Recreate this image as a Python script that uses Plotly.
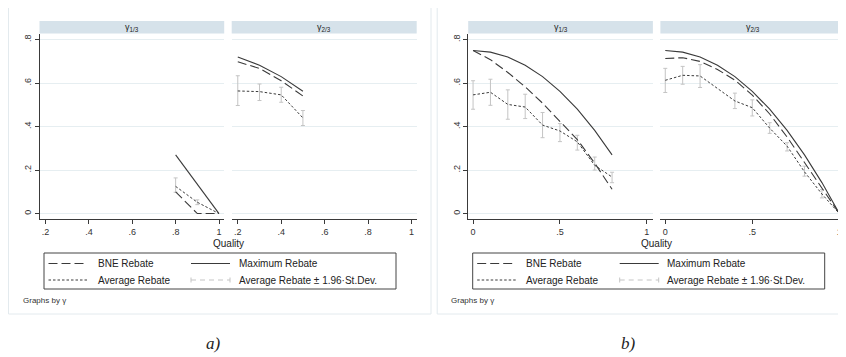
import plotly.graph_objects as go

# The page body adds an 8px margin, so the figure is 8px smaller and shifted.
PAGE_W, PAGE_H = 846, 357
OFF = 8
W, H = PAGE_W - OFF, PAGE_H - OFF

# ---------------- data ----------------
# Panel a)
a1_x = [0.8, 0.9, 1.0]
a1_max = [0.27, 0.135, 0.0]
a1_bne = [0.10, 0.0, 0.0]
a1_avg = [0.125, 0.052, 0.0]
a1_ci_x = [0.8, 0.9]
a1_lo = [0.098, 0.041]
a1_hi = [0.164, 0.063]

a2_x = [0.2, 0.3, 0.4, 0.5]
a2_max = [0.72, 0.6825, 0.63, 0.5625]
a2_bne = [0.698, 0.668, 0.611, 0.541]
a2_avg = [0.564, 0.561, 0.546, 0.44]
a2_ci_x = [0.2, 0.3, 0.4, 0.5]
a2_lo = [0.497, 0.52, 0.512, 0.405]
a2_hi = [0.634, 0.596, 0.581, 0.474]

# Panel b)
b1_x = [0.0, 0.1, 0.2, 0.3, 0.4, 0.5, 0.6, 0.7, 0.8]
b1_max = [0.75, 0.7425, 0.72, 0.6825, 0.63, 0.5625, 0.48, 0.3825, 0.27]
b1_bne = [0.75, 0.708, 0.649, 0.583, 0.508, 0.426, 0.34, 0.232, 0.112]
b1_avg = [0.546, 0.558, 0.502, 0.49, 0.407, 0.38, 0.33, 0.222, 0.168]
b1_ci_x = b1_x
b1_lo = [0.48, 0.498, 0.434, 0.437, 0.349, 0.331, 0.292, 0.20, 0.142]
b1_hi = [0.611, 0.618, 0.569, 0.549, 0.465, 0.414, 0.36, 0.26, 0.19]

b2_x = [0.0, 0.1, 0.2, 0.3, 0.4, 0.5, 0.6, 0.7, 0.8, 0.9, 1.0]
b2_max = [0.75, 0.7425, 0.72, 0.6825, 0.63, 0.5625, 0.48, 0.3825, 0.27, 0.1425, 0.0]
b2_bne = [0.713, 0.717, 0.70, 0.663, 0.614, 0.545, 0.458, 0.352, 0.235, 0.117, 0.0]
b2_avg_x = [0.0, 0.1, 0.2, 0.4, 0.5, 0.6, 0.7, 0.8, 0.9, 1.0]
b2_avg = [0.613, 0.636, 0.633, 0.518, 0.487, 0.393, 0.31, 0.192, 0.09, 0.0]
b2_ci_x = [0.0, 0.1, 0.2, 0.4, 0.5, 0.6, 0.7, 0.8, 0.9]
b2_lo = [0.557, 0.595, 0.58, 0.483, 0.449, 0.369, 0.288, 0.172, 0.072]
b2_hi = [0.668, 0.677, 0.685, 0.554, 0.523, 0.418, 0.326, 0.218, 0.11]

y_ticks = [0, 0.2, 0.4, 0.6, 0.8]
y_ticktext = ["0", ".2", ".4", ".6", ".8"]
a_xticks = [0.2, 0.4, 0.6, 0.8, 1.0]
a_xticktext = [".2", ".4", ".6", ".8", "1"]
b_xticks = [0, 0.5, 1.0]
b_xticktext = ["0", ".5", "1"]

legend_labels = ["BNE Rebate", "Maximum Rebate", "Average Rebate",
                 "Average Rebate \u00b1 1.96\u00b7St.Dev."]
strip_titles = ["\u03b3<sub>1/3</sub>", "\u03b3<sub>2/3</sub>"]
captions = ["a)", "b)"]

# ---------------- style ----------------
FONT = "Liberation Sans, Arial, sans-serif"
LINE = "#3a3a3a"
CI = "#c4c4c4"
GRID = "#e6eef1"
STRIP = "#d6e2ea"
BOX = "#e3eaee"

def px(x):
    return (x - OFF) / W

def py(y):
    return 1 - (y - OFF) / H

fig = go.Figure()

panels = [
    dict(off=0.0, subs=[(a1_x, a1_max, a1_bne, a1_x, a1_avg, a1_ci_x, a1_lo, a1_hi),
                        (a2_x, a2_max, a2_bne, a2_x, a2_avg, a2_ci_x, a2_lo, a2_hi)],
         xr=[0.172, 1.024], xt=a_xticks, xtt=a_xticktext),
    dict(off=428.7, subs=[(b1_x, b1_max, b1_bne, b1_x, b1_avg, b1_ci_x, b1_lo, b1_hi),
                          (b2_x, b2_max, b2_bne, b2_avg_x, b2_avg, b2_ci_x, b2_lo, b2_hi)],
         xr=[-0.028, 1.035], xt=b_xticks, xtt=b_xticktext),
]

sub_px = [(39.5, 224.2), (231.7, 416.7)]
plot_top, plot_bot = 34.0, 219.0
yr = [-0.025, 0.826]

shapes = []
annotations = []
layout_axes = {}

k = 0
for pi, p in enumerate(panels):
    off = p["off"]
    # outer box
    shapes.append(dict(type="rect", xref="paper", yref="paper",
                       x0=px(8.5 + off), x1=px(431 + off), y0=py(314), y1=py(7),
                       line=dict(color=BOX, width=1), fillcolor="white", layer="below"))
    for si, sub in enumerate(p["subs"]):
        k += 1
        xs, ymax, ybne, xavg, yavg, xci, lo, hi = sub
        x0p, x1p = sub_px[si]
        x0p += off
        x1p = min(x1p + off, PAGE_W - 0.5)
        xa = "x" if k == 1 else f"x{k}"
        ya = "y" if k == 1 else f"y{k}"
        xkey = "xaxis" if k == 1 else f"xaxis{k}"
        ykey = "yaxis" if k == 1 else f"yaxis{k}"
        layout_axes[xkey] = dict(
            domain=[px(x0p), px(x1p)], range=p["xr"], anchor=ya,
            tickmode="array", tickvals=p["xt"], ticktext=p["xtt"],
            showline=True, linecolor=LINE, linewidth=1,
            ticks="outside", ticklen=4, tickcolor=LINE, tickwidth=1,
            ticklabeloverflow="allow",
            tickfont=dict(family=FONT, size=9, color="#333"),
            showgrid=False, zeroline=False, fixedrange=True)
        layout_axes[ykey] = dict(
            domain=[py(plot_bot), py(plot_top)], range=yr, anchor=xa,
            tickmode="array", tickvals=y_ticks, ticktext=y_ticktext,
            showline=(si == 0), linecolor=LINE, linewidth=1,
            ticks="outside" if si == 0 else "", ticklen=4, tickcolor=LINE, tickwidth=1,
            showticklabels=(si == 0), tickangle=-90,
            ticklabeloverflow="allow",
            tickfont=dict(family=FONT, size=9, color="#333"),
            showgrid=True, gridcolor=GRID, gridwidth=1, zeroline=False, fixedrange=True)
        # strip header
        shapes.append(dict(type="rect", xref="paper", yref="paper",
                           x0=px(x0p), x1=px(x1p), y0=py(33.5), y1=py(21),
                           line=dict(color=STRIP, width=0), fillcolor=STRIP, layer="below"))
        annotations.append(dict(xref="paper", yref="paper", x=px((x0p + x1p) / 2), y=py(27.5),
                                text=strip_titles[si], showarrow=False,
                                font=dict(family=FONT, size=9, color="#222"),
                                xanchor="center", yanchor="middle"))
        # CI (rcap)
        mid = [(l + h) / 2 for l, h in zip(lo, hi)]
        fig.add_trace(go.Scatter(
            x=xci, y=mid, mode="markers", marker=dict(size=1, opacity=0),
            error_y=dict(type="data", symmetric=False,
                         array=[h - m for h, m in zip(hi, mid)],
                         arrayminus=[m - l for m, l in zip(mid, lo)],
                         color=CI, thickness=1, width=2),
            xaxis=xa, yaxis=ya, showlegend=False, hoverinfo="skip"))
        fig.add_trace(go.Scatter(x=xs, y=ymax, mode="lines",
                                 line=dict(color=LINE, width=1.1),
                                 xaxis=xa, yaxis=ya, showlegend=False))
        fig.add_trace(go.Scatter(x=xs, y=ybne, mode="lines",
                                 line=dict(color=LINE, width=1.1, dash="9px,4px"),
                                 xaxis=xa, yaxis=ya, showlegend=False))
        fig.add_trace(go.Scatter(x=xavg, y=yavg, mode="lines",
                                 line=dict(color=LINE, width=1, dash="2.5px,2px"),
                                 xaxis=xa, yaxis=ya, showlegend=False))

    # x title
    annotations.append(dict(xref="paper", yref="paper", x=px(228 + off), y=py(243.5),
                            text="Quality", showarrow=False,
                            font=dict(family=FONT, size=10, color="#222"),
                            xanchor="center", yanchor="middle"))
    # legend box
    shapes.append(dict(type="rect", xref="paper", yref="paper",
                       x0=px(44 + off), x1=px(396 + off), y0=py(289), y1=py(253),
                       line=dict(color="#444", width=1), fillcolor="white"))
    rows = [263.5, 280.0]
    cols = [(48.5, 87.0, 95.5), (191.0, 230.0, 236.7)]
    items = [(0, 0, dict(dash="9px,4px", color=LINE)),
             (0, 1, dict(dash="solid", color=LINE)),
             (1, 0, dict(dash="2.5px,2px", color=LINE)),
             (1, 1, dict(dash="5px,4px", color=CI))]
    for idx, (r, c, st) in enumerate(items):
        sx0, sx1, tx = cols[c]
        yy = rows[r]
        shapes.append(dict(type="line", xref="paper", yref="paper",
                           x0=px(sx0 + off), x1=px(sx1 + off), y0=py(yy), y1=py(yy),
                           line=dict(color=st["color"], width=1, dash=st["dash"])))
        if idx == 3:
            for cx in (sx0, sx1):
                shapes.append(dict(type="line", xref="paper", yref="paper",
                                   x0=px(cx + off), x1=px(cx + off),
                                   y0=py(yy - 2.5), y1=py(yy + 2.5),
                                   line=dict(color=CI, width=1)))
        annotations.append(dict(xref="paper", yref="paper", x=px(tx + off), y=py(yy),
                                text=legend_labels[idx], showarrow=False,
                                font=dict(family=FONT, size=10, color="#222"),
                                xanchor="left", yanchor="middle"))
    annotations.append(dict(xref="paper", yref="paper", x=px(20.5 + off), y=py(300),
                            text="Graphs by \u03b3", showarrow=False,
                            font=dict(family=FONT, size=8, color="#333"),
                            xanchor="left", yanchor="middle"))
    annotations.append(dict(xref="paper", yref="paper", x=px([213.5, 628.5][pi]), y=py(343),
                            text=f"<i>{captions[pi]}</i>", showarrow=False,
                            font=dict(family="Liberation Serif, DejaVu Serif, serif", size=17, color="#222"),
                            xanchor="center", yanchor="middle"))

fig.update_layout(
    width=W, height=H, autosize=False,
    margin=dict(l=0, r=0, t=0, b=0),
    paper_bgcolor="white", plot_bgcolor="white",
    shapes=shapes, annotations=annotations, showlegend=False,
    **layout_axes)

fig.write_html("out.html")
